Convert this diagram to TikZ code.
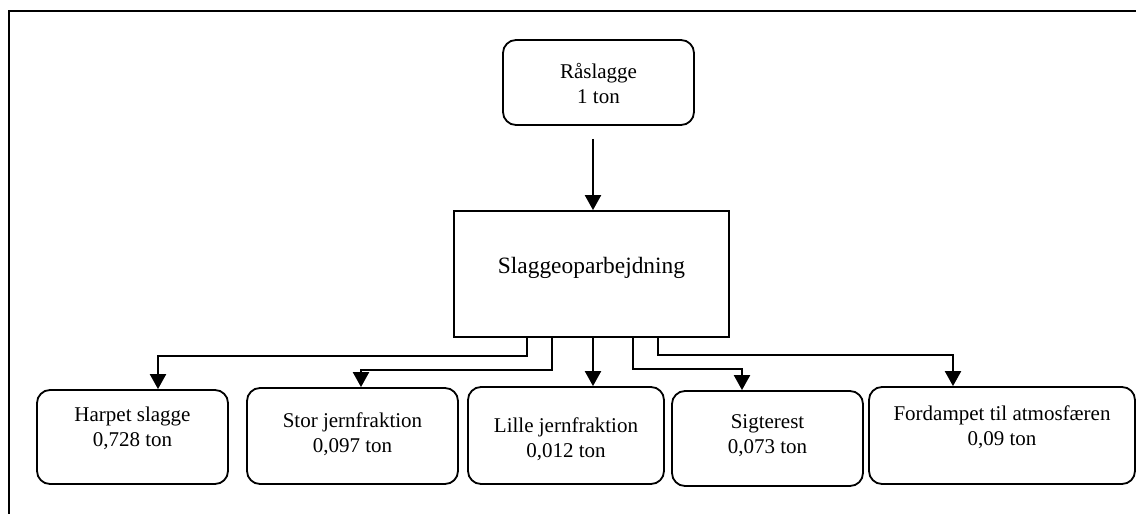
\documentclass[tikz,border=0pt]{standalone}
\usepackage{fontspec}
\setmainfont{Liberation Serif}
\usetikzlibrary{positioning,arrows.meta}

\tikzset{
  rbox/.style={draw, line width=1.8pt, rounded corners=13pt, inner sep=0pt},
  pbox/.style={draw, line width=1.8pt, inner sep=0pt},
  txt/.style={align=center, inner sep=0pt, font=\fontsize{21}{25}\selectfont},
  flow/.style={line width=2.2pt, -{Triangle[width=16pt,length=15pt]}},
}

\begin{document}
\begin{tikzpicture}[x=1pt,y=-1pt]
		\useasboundingbox (0,0) rectangle (1136,514);
		% frame
			\draw [line width=1.8pt] (9,514) -- (9,11) -- (1136,11);
		% top
			\node [rbox, minimum width=191pt, minimum height=85pt] (raa) at (598.5,82.5) {};
			\node [txt, below=24pt of raa.north] (raa-t) {Råslagge\\1 ton};
			\node [pbox, minimum width=275pt, minimum height=126pt] (slag) at (591.5,274) {};
			\node [txt, font=\fontsize{23.4}{28}\selectfont] (slag-t) at ([yshift=6pt]slag.center) {Slaggeoparbejdning};
		% fractions
			\node [rbox, minimum width=191pt, minimum height=94pt] (harp) at (132.5,437) {};
			\node [txt, below=18pt of harp.north] (harp-t) {Harpet slagge\\0,728 ton};
			\node [rbox, minimum width=211pt, minimum height=96pt] (stor) at (352.5,436) {};
			\node [txt, below=25pt of stor.north] (stor-t) {Stor jernfraktion\\0,097 ton};
			\node [rbox, minimum width=196pt, minimum height=97pt] (lille) at (566,435.5) {};
			\node [txt, below=31pt of lille.north] (lille-t) {Lille jernfraktion\\0,012 ton};
			\node [rbox, minimum width=191pt, minimum height=95pt] (sig) at (767.5,438.5) {};
			\node [txt, below=24pt of sig.north] (sig-t) {Sigterest\\0,073 ton};
			\node [rbox, minimum width=266pt, minimum height=97pt] (ford) at (1002,435.5) {};
			\node [txt, below=19pt of ford.north] (ford-t) {Fordampet til atmosfæren\\0,09 ton};
		% arrows
			\draw [flow] ([xshift=-5.5pt,yshift=-13pt]raa.south) -- ([xshift=1.5pt]slag.north);
			\draw [flow] ([xshift=-64.5pt]slag.south) -- ++(0,18) -| ([xshift=25.5pt]harp.north);
			\draw [flow] ([xshift=-39.5pt]slag.south) -- ++(0,32) -| ([xshift=8.5pt]stor.north);
			\draw [flow] ([xshift=1.5pt]slag.south) -- ([xshift=27pt]lille.north);
			\draw [flow] ([xshift=41.5pt]slag.south) -- ++(0,31) -| ([xshift=-25.5pt]sig.north);
			\draw [flow] ([xshift=66.5pt]slag.south) -- ++(0,17) -| ([xshift=-49pt]ford.north);
\end{tikzpicture}
\end{document}
